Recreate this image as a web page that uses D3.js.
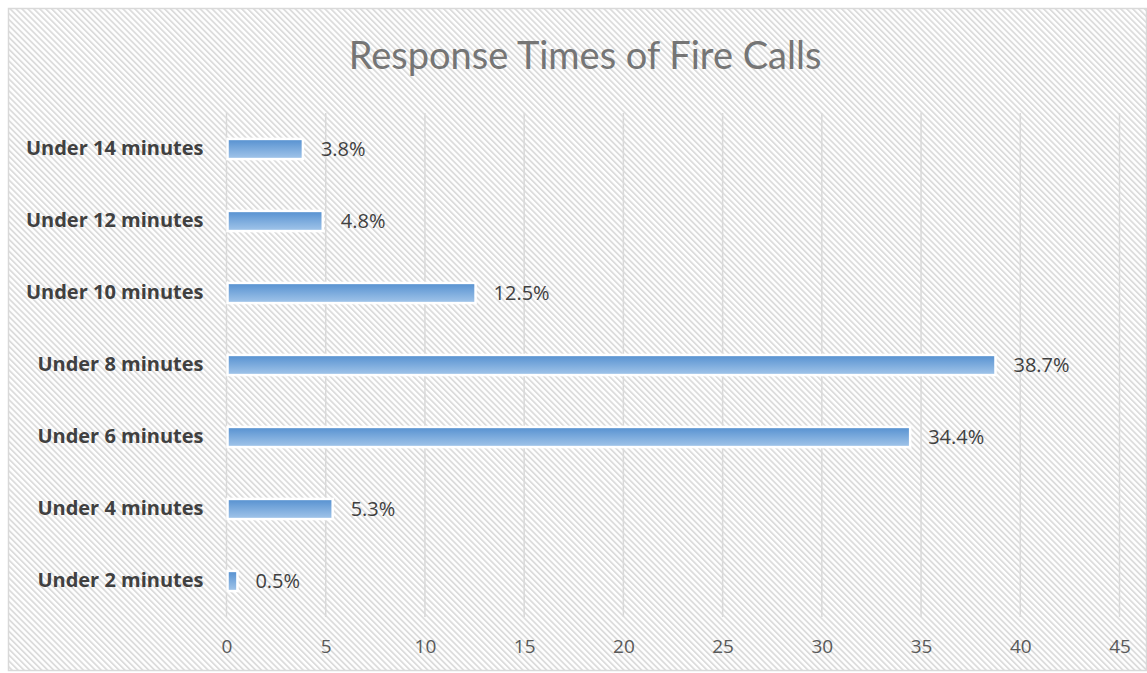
<!DOCTYPE html>
<html>
<head>
<meta charset="utf-8">
<script src="https://cdn.jsdelivr.net/npm/d3@7"></script>
<style>
  body { margin: 0; background: #fff; }
  svg { display: block; }
</style>
</head>
<body>
<div class="chart"></div>
<script>
const categories = ['Under 2 minutes', 'Under 4 minutes', 'Under 6 minutes', 'Under 8 minutes',
                    'Under 10 minutes', 'Under 12 minutes', 'Under 14 minutes'];
const values = [0.5, 5.3, 34.4, 38.7, 12.5, 4.8, 3.8];
const xTicks = [0, 5, 10, 15, 20, 25, 30, 35, 40, 45];
const title = 'Response Times of Fire Calls';

const width = 1147,
    height = 673,
    font = '"Open Sans", sans-serif';

const margin = {left: 226.5, right: 27.5, top: 113, bottom: 56};

const svg = d3.select('.chart').append('svg')
    .attr('width', width)
    .attr('height', height);

const defs = svg.append('defs');

// diagonal hatch background (stripes falling to the right)
const pat = defs.append('pattern')
    .attr('id', 'hatch')
    .attr('patternUnits', 'userSpaceOnUse')
    .attr('width', 4.2)
    .attr('height', 4.2)
    .attr('patternTransform', 'rotate(-45)');
pat.append('rect').attr('width', 4.2).attr('height', 4.2).attr('fill', '#ffffff');
pat.append('rect').attr('width', 1.8).attr('height', 4.2).attr('fill', '#dcdcdc');

const grad = defs.append('linearGradient')
    .attr('id', 'barGrad')
    .attr('x1', 0).attr('y1', 0).attr('x2', 0).attr('y2', 1);
grad.append('stop').attr('offset', '0%').attr('stop-color', '#5590d0');
grad.append('stop').attr('offset', '100%').attr('stop-color', '#a3c6ea');

svg.append('rect')
    .attr('x', 8.5).attr('y', 8.5)
    .attr('width', width - 9).attr('height', height - 11)
    .attr('fill', 'url(#hatch)')
    .attr('stroke', '#d9d9d9')
    .attr('stroke-width', 1.5);

const x = d3.scaleLinear()
    .domain([0, 45])
    .range([margin.left, width - margin.right]);

const y = d3.scaleBand()
    .domain(categories.slice().reverse())
    .range([margin.top, height - margin.bottom])
    .paddingInner(0.72)
    .paddingOuter(0.36);

// gridlines
svg.append('g').selectAll('line')
    .data(xTicks)
    .enter()
    .append('line')
    .attr('x1', d => x(d)).attr('x2', d => x(d))
    .attr('y1', margin.top).attr('y2', height - margin.bottom)
    .attr('stroke', '#d9d9d9')
    .attr('stroke-width', 1.5);

// x axis labels
const xAxis = d3.axisBottom(x).tickValues(xTicks).tickSize(0).tickPadding(23);
const xg = svg.append('g')
    .attr('transform', `translate(0, ${height - margin.bottom})`)
    .call(xAxis);
xg.select('.domain').remove();
xg.selectAll('text')
    .attr('fill', '#595959')
    .style('font-family', font)
    .style('font-size', '19px');

// y axis labels
const yAxis = d3.axisLeft(y).tickSize(0).tickPadding(23);
const yg = svg.append('g')
    .attr('transform', `translate(${margin.left}, 0)`)
    .call(yAxis);
yg.select('.domain').remove();
yg.selectAll('text')
    .attr('fill', '#404040')
    .style('font-family', font)
    .style('font-weight', 'bold')
    .style('font-size', '20px');

// bars
svg.append('g').selectAll('rect')
    .data(values)
    .enter()
    .append('rect')
    .attr('x', x(0) + 1)
    .attr('y', (d, i) => y(categories[i]))
    .attr('width', d => x(d) - x(0))
    .attr('height', y.bandwidth())
    .attr('fill', 'url(#barGrad)')
    .attr('stroke', '#ffffff')
    .attr('stroke-width', 2.5);

// value labels
svg.append('g').selectAll('text')
    .data(values)
    .enter()
    .append('text')
    .attr('x', d => x(d) + 19)
    .attr('y', (d, i) => y(categories[i]) + y.bandwidth() / 2)
    .attr('dy', '0.35em')
    .attr('fill', '#404040')
    .style('font-family', font)
    .style('font-size', '20px')
    .text(d => d.toFixed(1) + '%');

svg.append('text')
    .attr('x', 585)
    .attr('y', 69)
    .attr('text-anchor', 'middle')
    .attr('fill', '#757575')
    .style('font-family', 'Lato, "Open Sans", sans-serif')
    .style('font-size', '38px')
    .text(title);
</script>
</body>
</html>
